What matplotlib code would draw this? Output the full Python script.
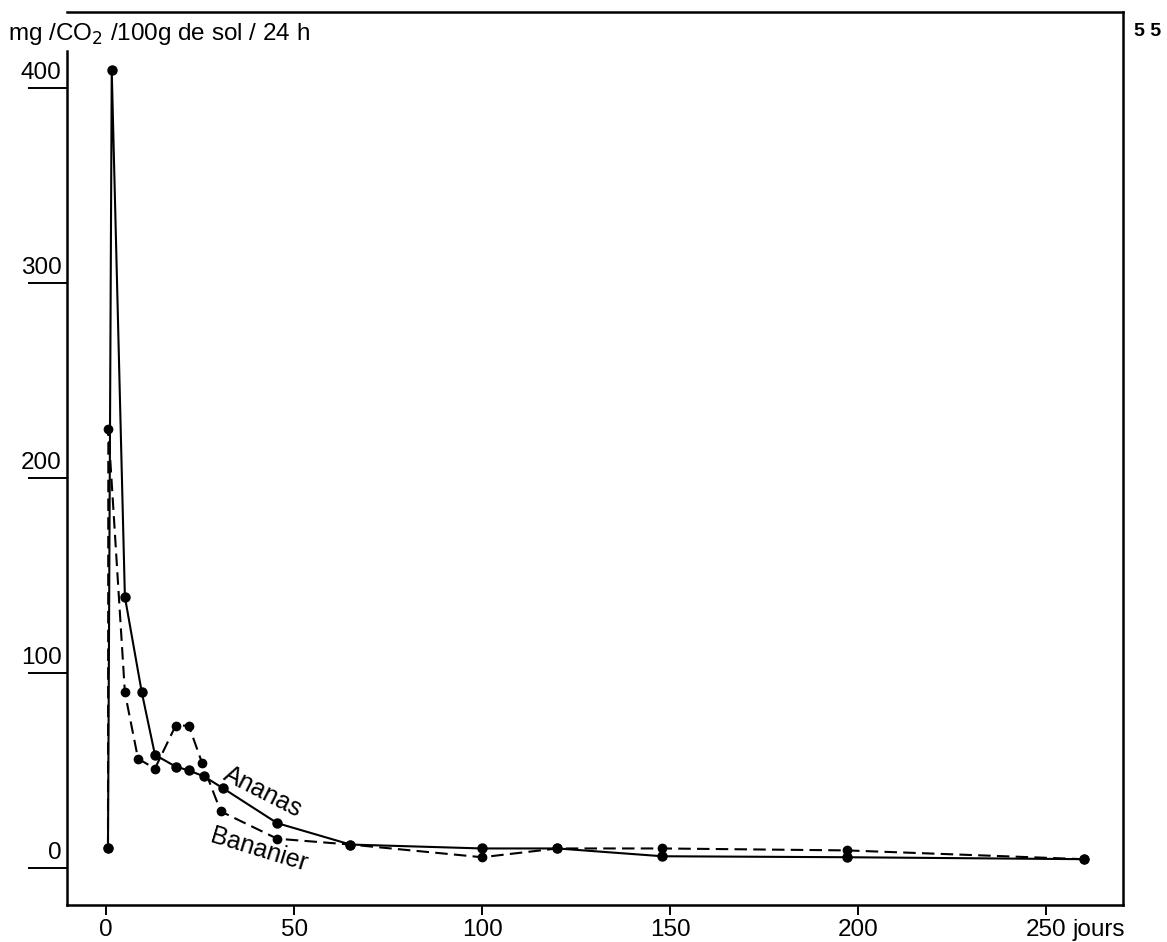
import matplotlib
matplotlib.use("Agg")
import matplotlib.pyplot as plt

plt.rcParams["font.family"] = ["Liberation Sans", "DejaVu Sans"]

# ── Data (days, mg CO2 / 100 g soil / 24 h) ──────────────────────────────────
days_ananas = [0.5, 1.5, 5, 9.5, 13, 18.5, 22, 26, 31, 45.5, 65, 100, 120, 148, 197, 260]
vals_ananas = [10, 409, 139, 90, 58, 52, 50, 47, 41, 23, 12, 10, 10, 6, 5.5, 4.5]

days_bananier = [0.5, 0.6, 5, 8.5, 13, 18.5, 22, 25.5, 30.5, 45.5, 65, 100, 120, 148, 197, 260]
vals_bananier = [10, 225, 90, 56, 51, 73, 73, 54, 29, 15, 12, 5.5, 10, 10, 9, 4.5]

x_ticks = [0, 50, 100, 150, 200, 250]
y_ticks = [0, 100, 200, 300, 400]

W, H = 1167, 942
fig = plt.figure(figsize=(W / 100, H / 100), dpi=100)
fig.patch.set_facecolor("white")

# axes frame in pixels: left 67, right 1123, top 12, bottom 905
L, R, T, B = 67, 1123, 12, 905
ax = fig.add_axes([L / W, (H - B) / H, (R - L) / W, (B - T) / H])
ax.set_xlim(-10.4, 270.5)
ax.set_ylim(-19, 439)

ax.plot(days_ananas, vals_ananas, color="black", lw=1.5, marker="o",
        ms=6.5, zorder=3, clip_on=False)
ax.plot(days_bananier, vals_bananier, color="black", lw=1.5, ls=(0, (6, 3)),
        marker="o", ms=6, zorder=3, clip_on=False)

# ── Spines ────────────────────────────────────────────────────────────────────
for s in ["top", "right", "bottom"]:
    ax.spines[s].set_linewidth(1.8)
ax.spines["left"].set_visible(False)
ax.plot([0, 0], [-19, 419], color="black", lw=1.8,
        transform=ax.get_yaxis_transform(), clip_on=False)

# ── Y ticks: long lines with labels sitting on them ──────────────────────────
ax.set_yticks(y_ticks)
ax.set_yticklabels([])
ax.tick_params(axis="y", direction="out", length=28, width=1.4)
for v in y_ticks:
    ax.text(-0.005, v + 2, str(v), transform=ax.get_yaxis_transform(),
            ha="right", va="bottom", fontsize=17.5)

# ── X ticks ──────────────────────────────────────────────────────────────────
TICK_LEN, TICK_PAD = 7, 3
ax.set_xticks(x_ticks)
ax.set_xticklabels([str(t) for t in x_ticks], fontsize=17.5)
ax.tick_params(axis="x", direction="out", length=TICK_LEN, width=1.4, pad=TICK_PAD)
ax.annotate("jours", xy=(257, 0), xycoords=("data", "axes fraction"),
            xytext=(0, -(TICK_LEN + TICK_PAD)), textcoords="offset points",
            ha="left", va="top", fontsize=17.5)

# ── Series labels ────────────────────────────────────────────────────────────
ax.text(41.8, 39, "Ananas", rotation=-27, ha="center", va="center",
        fontsize=18)
ax.text(40.7, 9, "Bananier", rotation=-17, ha="center", va="center",
        fontsize=18)

# ── Unit label and page number ───────────────────────────────────────────────
fig.text(8 / W, 1 - 40 / H, "mg /CO$_2$ /100g de sol / 24 h", fontsize=17.5,
         ha="left", va="baseline")
fig.text(1134 / W, 1 - 36 / H, "5 5", fontsize=14, fontweight="bold",
         ha="left", va="baseline")

fig.savefig("out.png", dpi=100, facecolor="white")
